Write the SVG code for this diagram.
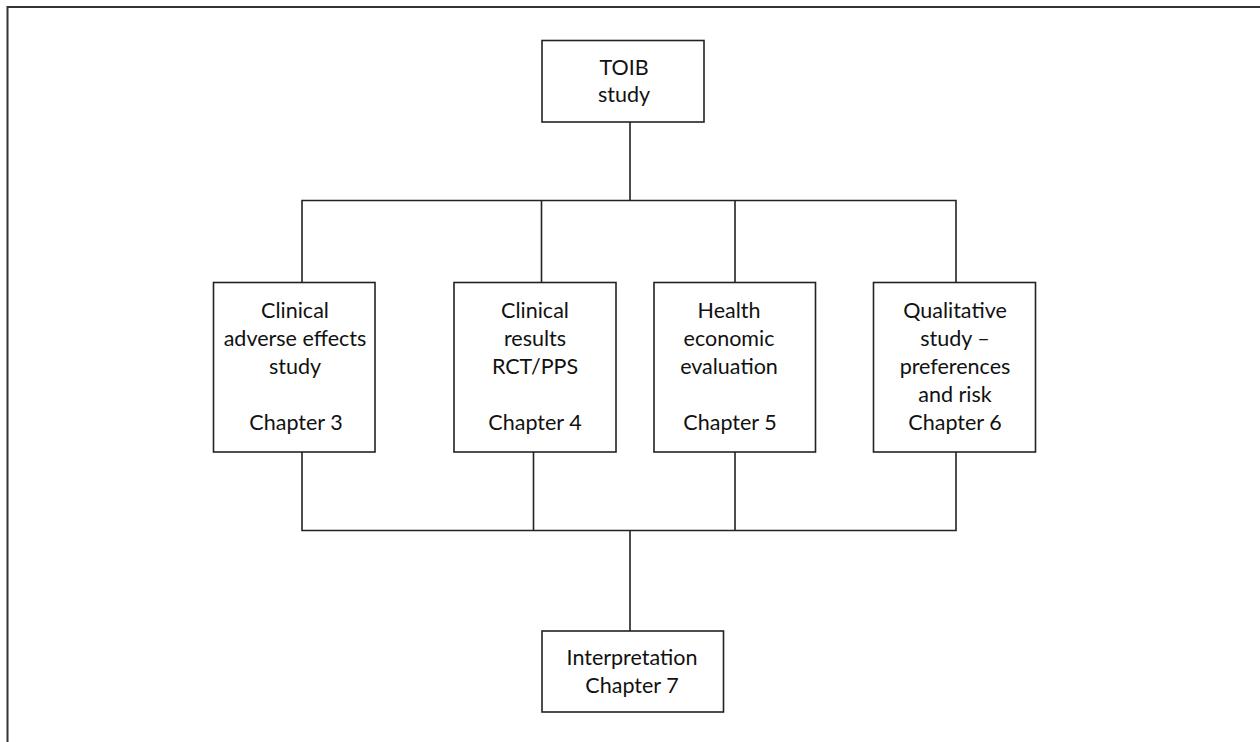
<svg xmlns="http://www.w3.org/2000/svg" width="1260" height="742" viewBox="0 0 1260 742">
<style>
.box{fill:#fff;stroke:#222;stroke-width:1.6}
.ln{fill:none;stroke:#222;stroke-width:1.6}
.frame{fill:none;stroke:#333;stroke-width:2}
text{font-family:Lato,"Open Sans","Liberation Sans",sans-serif;font-size:21.5px;fill:#111;text-anchor:middle}
</style>
<rect width="1260" height="742" fill="#fff"/>
<path class="frame" d="M7.5,742 V7 H1260"/>
<g id="connectors">
<path class="ln" d="M630,122 V200.5 M302,282 V200.5 H956 V282 M541.5,200.5 V282 M735,200.5 V282"/>
<path class="ln" d="M302,452 V530.5 H956 V452 M533.5,452 V530.5 M735,452 V530.5 M630,530.5 V631"/>
</g>
<g id="toib">
<rect class="box" x="542" y="40.5" width="162" height="81.5"/>
<text x="624" y="75">TOIB</text>
<text x="624" y="101.5">study</text>
</g>
<g id="ch3">
<rect class="box" x="213.5" y="282.5" width="161.5" height="169.5"/>
<text x="295" y="318">Clinical</text>
<text x="295" y="346">adverse effects</text>
<text x="295" y="374">study</text>
<text x="296" y="430">Chapter 3</text>
</g>
<g id="ch4">
<rect class="box" x="454" y="282.5" width="162" height="169.5"/>
<text x="535" y="318">Clinical</text>
<text x="535" y="346">results</text>
<text x="535" y="374">RCT/PPS</text>
<text x="535" y="430">Chapter 4</text>
</g>
<g id="ch5">
<rect class="box" x="654" y="282.5" width="161.5" height="169.5"/>
<text x="729" y="318">Health</text>
<text x="729" y="346">economic</text>
<text x="729" y="374">evaluation</text>
<text x="730" y="430">Chapter 5</text>
</g>
<g id="ch6">
<rect class="box" x="873.5" y="282.5" width="162" height="169.5"/>
<text x="955" y="318">Qualitative</text>
<text x="955" y="346">study –</text>
<text x="955" y="374">preferences</text>
<text x="955" y="402">and risk</text>
<text x="955" y="430">Chapter 6</text>
</g>
<g id="ch7">
<rect class="box" x="542" y="631" width="181.5" height="81"/>
<text x="632" y="665">Interpretation</text>
<text x="632" y="692.5">Chapter 7</text>
</g>
</svg>
